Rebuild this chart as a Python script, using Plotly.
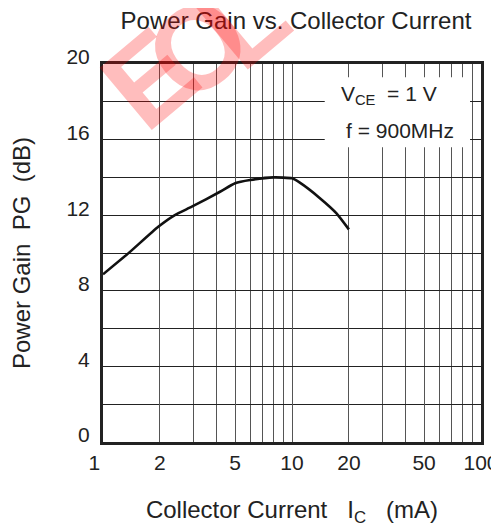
import plotly.graph_objects as go

# Data
collector_current_ma = [1, 1.36, 1.96, 2.4, 2.95, 4.16, 5, 6, 8, 10, 11, 14.1, 17.2, 20]
power_gain_db = [8.87, 9.98, 11.39, 12.01, 12.45, 13.24, 13.69, 13.86, 14.0, 13.95, 13.72, 12.89, 12.1, 11.25]

x_tick_vals = [1, 2, 5, 10, 20, 50, 100]
x_tick_text = ["1\u2007\u2008", "2", "5", "10", "20", "50", "100"]
x_minor_vals = [2, 3, 4, 5, 6, 7, 8, 9, 20, 30, 40, 50, 60, 70, 80, 90]
y_tick_vals = [0, 4, 8, 12, 16, 20]
watermark_letters = ["E", "O", "L"]

FONT = "Liberation Sans, Arial, Helvetica, sans-serif"

# The page body adds an 8 px margin, so the figure is offset by 8 px.
fig = go.Figure()
fig.add_trace(go.Scatter(
    x=collector_current_ma, y=power_gain_db, mode="lines",
    line=dict(color="#111111", width=2.6, shape="spline", smoothing=0.5),
    hoverinfo="skip", showlegend=False,
))

fig.update_layout(
    width=491, height=519,
    margin=dict(l=95, r=18, t=56, b=85, autoexpand=False),
    paper_bgcolor="white", plot_bgcolor="white",
    font=dict(family=FONT, size=21, color="#222222"),
    title=dict(text="Power Gain vs. Collector Current", x=0.5866, xanchor="center",
               y=1 - 13 / 519, yanchor="middle", font=dict(size=24, color="#222222")),
    xaxis=dict(
        type="log", range=[0, 2], automargin=False,
        tickmode="array", tickvals=x_tick_vals, ticktext=x_tick_text,
        ticklabeloverflow="allow",
        showgrid=True, gridcolor="#555555", gridwidth=1,
        minor=dict(tickmode="array", tickvals=x_minor_vals, showgrid=True,
                   gridcolor="#555555", gridwidth=1, ticks=""),
        showline=True, linecolor="#222222", linewidth=3, mirror=True,
        ticks="", zeroline=False, tickfont=dict(size=21),
        title=dict(text="Collector Current   I<sub>C</sub>   (mA)", standoff=29,
                   font=dict(size=24)),
    ),
    yaxis=dict(
        range=[0, 20], automargin=False, tickmode="array", tickvals=y_tick_vals,
        ticklabeloverflow="allow",
        showgrid=True, gridcolor="#222222", gridwidth=1,
        minor=dict(dtick=2, showgrid=True, gridcolor="#222222", gridwidth=1, ticks=""),
        showline=True, linecolor="#222222", linewidth=3, mirror=True,
        ticks="", zeroline=False, tickfont=dict(size=21), ticklabelshift=-7,
        ticklabelstandoff=6,
        title=dict(text="Power Gain  PG  (dB)", standoff=39, font=dict(size=24)),
    ),
)

# White label box covering the grid in the upper right
fig.add_shape(type="rect", xref="x", yref="y", x0=14.9, x1=87.5, y0=15.6, y1=19.3,
              fillcolor="white", line=dict(width=0), layer="above")
fig.add_annotation(text="V<sub>CE</sub>  = 1 V", xref="x", yref="y", x=1.513, y=18.36,
                   showarrow=False, font=dict(size=21, color="#222222"))
fig.add_annotation(text="f = 900MHz", xref="x", yref="y", x=1.571, y=16.5,
                   showarrow=False, font=dict(size=21, color="#222222"))

# EOL watermark, one letter at a time
wm_x = [0.124, 0.251, 0.370]
wm_y = [0.963, 1.045, 1.116]
for letter, px, py in zip(watermark_letters, wm_x, wm_y):
    fig.add_annotation(text="<b>" + letter + "</b>", xref="paper", yref="paper",
                       x=px, y=py, xanchor="center", yanchor="middle",
                       showarrow=False, textangle=-40,
                       font=dict(size=118, color="rgba(255,0,0,0.26)", family=FONT))

fig.write_html("out.html")
